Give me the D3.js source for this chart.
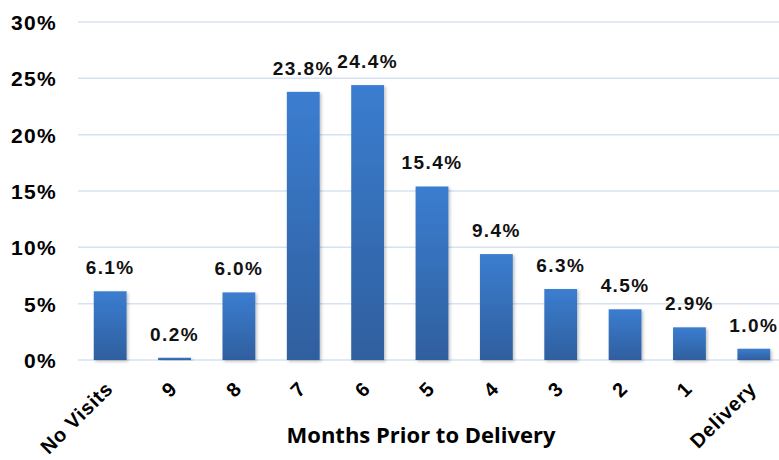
<!DOCTYPE html>
<html>
<head>
<meta charset="utf-8">
<script src="https://cdn.jsdelivr.net/npm/d3@7"></script>
<style>
  body { margin: 0; background: #fff; }
  text { font-family: "Liberation Sans", Arial, sans-serif; }
</style>
</head>
<body>
<svg id="chart"></svg>
<script>
const categories = ["No Visits", "9", "8", "7", "6", "5", "4", "3", "2", "1", "Delivery"];
const values = [6.1, 0.2, 6.0, 23.8, 24.4, 15.4, 9.4, 6.3, 4.5, 2.9, 1.0];
const yTicks = [0, 5, 10, 15, 20, 25, 30];

const width = 779;
const height = 460;
const margin = { top: 22, right: -7, bottom: 100, left: 78 };

const svg = d3.select("#chart")
  .attr("width", width)
  .attr("height", height);

const defs = svg.append("defs");
const grad = defs.append("linearGradient")
  .attr("id", "barGrad")
  .attr("x1", 0).attr("y1", 0).attr("x2", 0).attr("y2", 1);
grad.append("stop").attr("offset", "0%").attr("stop-color", "#3b7dd0");
grad.append("stop").attr("offset", "100%").attr("stop-color", "#2f5f9e");

const shadow = defs.append("filter").attr("id", "shadow")
  .attr("x", "-20%").attr("y", "-20%").attr("width", "150%").attr("height", "150%");
shadow.append("feDropShadow")
  .attr("dx", 1.5).attr("dy", 1.5).attr("stdDeviation", 1.5)
  .attr("flood-color", "#000").attr("flood-opacity", 0.25);

const x = d3.scaleBand()
  .domain(categories)
  .range([margin.left, width - margin.right])
  .paddingInner(0.49)
  .paddingOuter(0.245);

const y = d3.scaleLinear()
  .domain([0, 30])
  .range([height - margin.bottom, margin.top]);

// gridlines
svg.append("g")
  .selectAll("line")
  .data(yTicks)
  .enter()
  .append("line")
  .attr("x1", margin.left)
  .attr("x2", width)
  .attr("y1", d => y(d))
  .attr("y2", d => y(d))
  .attr("stroke", "#d6e2f1")
  .attr("stroke-width", 1.5);

// y axis labels
const yAxis = svg.append("g")
  .attr("transform", `translate(${margin.left - 21},0)`)
  .call(d3.axisLeft(y).tickValues(yTicks).tickFormat(d => d + "%").tickSize(0));
yAxis.select(".domain").remove();
yAxis.selectAll("text")
  .attr("x", 0)
  .attr("dy", "0.36em")
  .attr("font-size", 21)
  .attr("font-weight", "bold")
  .attr("letter-spacing", 1.3)
  .attr("fill", "#000");

// bars
svg.append("g")
  .selectAll("rect")
  .data(values)
  .enter()
  .append("rect")
  .attr("x", (d, i) => x(categories[i]))
  .attr("y", d => y(d))
  .attr("width", x.bandwidth())
  .attr("height", d => y(0) - y(d))
  .attr("fill", "url(#barGrad)")
  .attr("filter", "url(#shadow)");

// value labels
svg.append("g")
  .selectAll("text")
  .data(values)
  .enter()
  .append("text")
  .attr("x", (d, i) => x(categories[i]) + x.bandwidth() / 2)
  .attr("y", d => y(d) - 17)
  .attr("text-anchor", "middle")
  .attr("font-size", 19)
  .attr("font-weight", "bold")
  .attr("letter-spacing", 1.4)
  .attr("fill", "#111")
  .text(d => d.toFixed(1) + "%");

// x axis labels (rotated)
const xAxis = svg.append("g")
  .call(d3.axisBottom(x).tickSize(0));
xAxis.select(".domain").remove();
xAxis.selectAll(".tick").attr("transform", null);
xAxis.selectAll(".tick text")
  .attr("x", 0)
  .attr("y", 0)
  .attr("dy", "0.35em")
  .attr("text-anchor", "end")
  .attr("transform", d => `translate(${x(d) + x.bandwidth() / 2 - 1},385) rotate(-45)`)
  .attr("font-size", 20)
  .attr("font-weight", "bold")
  .attr("letter-spacing", 0.8)
  .attr("fill", "#000");

// axis title
svg.append("text")
  .attr("x", 421)
  .attr("y", 443)
  .attr("text-anchor", "middle")
  .style("font-family", "'Open Sans', sans-serif")
  .attr("font-size", 22)
  .attr("font-weight", "bold")
  .text("Months Prior to Delivery");
</script>
</body>
</html>
